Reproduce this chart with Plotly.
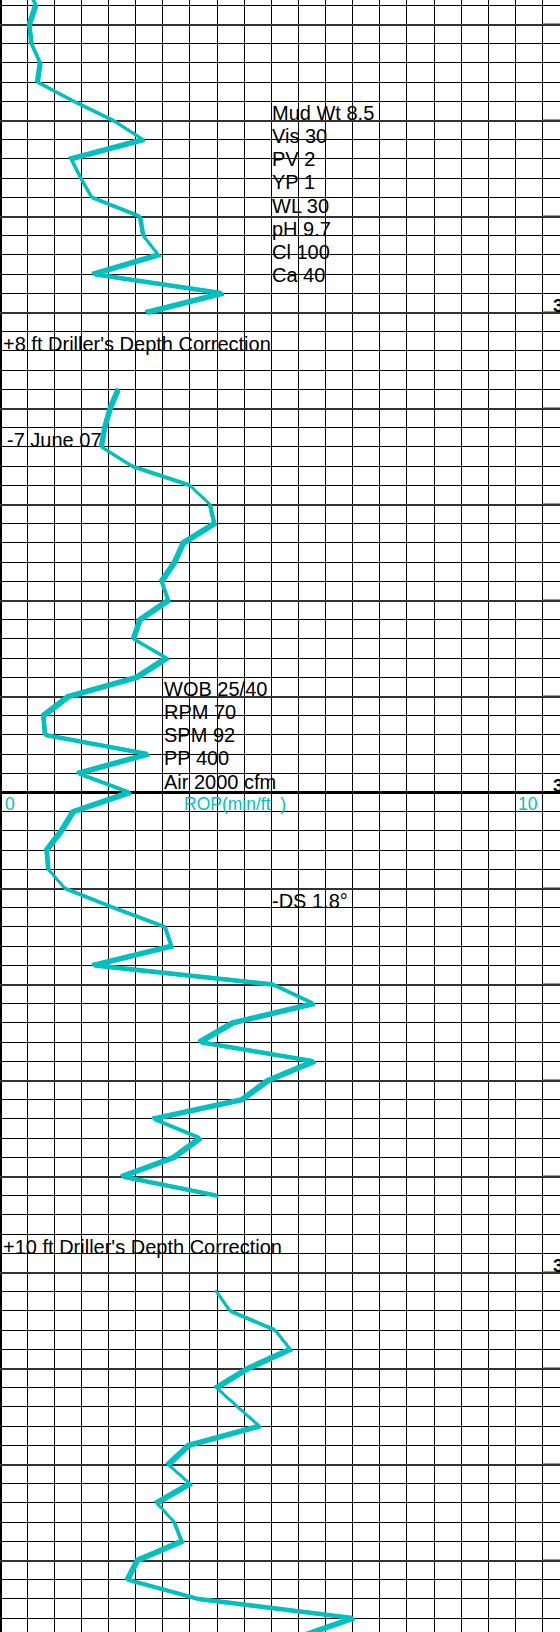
import math
import plotly.graph_objects as go

# ---------------- data ----------------
# depth (ft) and rate of penetration (min/ft), three logged intervals
seg1_depth = [3166, 3168, 3170, 3172, 3174, 3176, 3178, 3180, 3182, 3184,
              3186, 3188, 3190, 3192, 3194, 3196, 3198, 3200]
seg1_rop = [0.50, 0.66, 0.54, 0.58, 0.74, 0.69, 1.36, 2.09, 2.64, 1.31,
            1.49, 1.69, 2.58, 2.64, 2.92, 1.72, 4.10, 2.70]

seg2_depth = [3208, 3210, 3212, 3214, 3216, 3218, 3220, 3222, 3224, 3226,
              3228, 3230, 3232, 3234, 3236, 3238, 3240, 3242, 3244, 3246,
              3248, 3250, 3252, 3254, 3256, 3258, 3260, 3262, 3264, 3266,
              3268, 3270, 3272, 3274, 3276, 3278, 3280, 3282, 3284, 3286,
              3288, 3290, 3292]
seg2_rop = [2.18, 2.03, 1.93, 1.87, 2.43, 3.50, 3.87, 3.95, 3.38, 3.22,
            2.98, 3.10, 2.58, 2.46, 3.07, 2.52, 1.26, 0.80, 0.83, 2.73,
            1.44, 2.39, 1.35, 1.13, 0.86, 0.89, 1.20, 2.09, 3.04, 3.16,
            1.72, 5.03, 5.78, 4.29, 3.68, 5.79, 4.94, 4.46, 2.83, 3.69,
            3.21, 2.25, 4.00]

seg3_depth = [3302, 3304, 3306, 3308, 3310, 3312, 3314, 3316, 3318, 3320,
              3322, 3324, 3326, 3328, 3330, 3332, 3334, 3336, 3338]
seg3_rop = [3.99, 4.24, 5.07, 5.35, 4.57, 3.99, 4.38, 4.78, 3.48, 3.10,
            3.50, 2.89, 3.21, 3.35, 2.53, 2.35, 3.65, 6.51, 5.50]

depth_label_values = [3200, 3250, 3300]
depth_label_text = ["3200", "3250", "3300"]

mud_props = ["Mud Wt 8.5", "Vis 30", "PV 2", "YP 1", "WL 30", "pH 9.7", "Cl 100", "Ca 40"]
drill_params = ["WOB 25/40", "RPM 70", "SPM 92", "PP 400", "Air 2000 cfm"]
correction_1 = "+8 ft Driller's Depth Correction"
date_note = "-7 June 07"
survey_note = "-DS 1.8\u00b0"
correction_2 = "+10 ft Driller's Depth Correction"
rop_title = "ROP(min/ft\u00a0\u00a0)"
rop_min_label = "0"
rop_max_label = "10"

# ---------------- geometry ----------------
W, H = 560, 1632
PX_PER_ROP = 54.25        # 0..10 spans 542.5 px
PX_PER_FT = 9.6           # 2 ft per 19.2 px
REF_DEPTH = 3250
REF_PX = 792.5            # pixel row of REF_DEPTH
CYAN = "#00C0C0"
FONT = "Liberation Sans, Arial, sans-serif"

x_max = W / PX_PER_ROP
y_top = REF_DEPTH - REF_PX / PX_PER_FT
y_bot = REF_DEPTH + (H - REF_PX) / PX_PER_FT


def dpx(ypx):
    return REF_DEPTH + (ypx - REF_PX) / PX_PER_FT


def rpx(xpx):
    return xpx / PX_PER_ROP


fig = go.Figure()

# ROP curve, drawn with a slanted "pen": several offset strokes
all_depth = seg1_depth + [None] + seg2_depth + [None] + seg3_depth
all_rop = seg1_rop + [None] + seg2_rop + [None] + seg3_rop
pen_half = 1.9
steps = 7
for i in range(steps):
    s = -pen_half + 2 * pen_half * i / (steps - 1)
    ox = s / math.sqrt(2) / PX_PER_ROP
    oy = s / math.sqrt(2) / PX_PER_FT
    fig.add_trace(go.Scatter(
        x=[None if v is None else v + ox for v in all_rop],
        y=[None if v is None else v + oy for v in all_depth],
        mode="lines", line=dict(color=CYAN, width=2.2),
        hoverinfo="skip", showlegend=False))

shapes = []
# cover minor horizontal grid in the right margin strip
shapes.append(dict(type="rect", xref="x", yref="paper", x0=10 + 0.7 / PX_PER_ROP, x1=x_max,
                   y0=0, y1=1, fillcolor="white", line=dict(width=0), layer="between"))
major_depths = list(range(3170, 3340, 10))
for d in major_depths:
    shapes.append(dict(type="line", xref="x", yref="y", x0=10, x1=x_max, y0=d, y1=d,
                       line=dict(color="#333333", width=2), layer="between"))
# ROP scale line
shapes.append(dict(type="line", xref="x", yref="y", x0=0, x1=x_max, y0=REF_DEPTH, y1=REF_DEPTH,
                   line=dict(color="black", width=3), layer="between"))
# left border
shapes.append(dict(type="line", xref="x", yref="paper", x0=0, x1=0, y0=0, y1=1,
                   line=dict(color="black", width=4), layer="between"))

ann = []
txt = dict(family=FONT, size=20, color="black")
cyan_txt = dict(family=FONT, size=17.5, color=CYAN)


def add_text(text, xpx, ypx, font, xanchor="left"):
    ann.append(dict(text=text, x=rpx(xpx), y=dpx(ypx), xref="x", yref="y",
                    xanchor=xanchor, yanchor="middle", showarrow=False, font=font))


for i, t in enumerate(mud_props):
    add_text(t, 270, 112.7 + i * 23.23, txt)
for i, t in enumerate(drill_params):
    add_text(t, 161.5, 688.5 + i * 23.3, txt)
add_text(correction_1, 0.7, 344, txt)
add_text(date_note, 4.5, 440, txt)
add_text(survey_note, 270, 901, txt)
add_text(correction_2, 0.7, 1247, txt)
add_text(rop_min_label, 3, 804, cyan_txt)
add_text(rop_title, 181.5, 804, cyan_txt)
add_text(rop_max_label, 539.5, 804, cyan_txt, xanchor="right")
for d, t in zip(depth_label_values, depth_label_text):
    ann.append(dict(text=t, x=rpx(551.3), y=d - 7 / PX_PER_FT, xref="x", yref="y",
                    xanchor="left", yanchor="middle", showarrow=False,
                    font=dict(family=FONT, size=19, color="black", weight="bold")))

fig.update_layout(
    width=W, height=H, margin=dict(l=0, r=0, t=0, b=0, pad=0),
    paper_bgcolor="white", plot_bgcolor="white",
    shapes=shapes, annotations=ann, showlegend=False,
    xaxis=dict(range=[0, x_max], tickmode="array",
               tickvals=[i * 0.5 for i in range(21)],
               showgrid=True, gridcolor="black", gridwidth=1,
               showticklabels=False, ticks="", zeroline=False, showline=False,
               fixedrange=True),
    yaxis=dict(range=[y_bot, y_top], tick0=REF_DEPTH, dtick=10,
               showgrid=True, gridcolor="#333333", gridwidth=2,
               minor=dict(dtick=2, tick0=REF_DEPTH, showgrid=True, gridcolor="black", gridwidth=1),
               showticklabels=False, ticks="", zeroline=False, showline=False,
               fixedrange=True),
)

fig.write_html("out.html", config={"displayModeBar": False},
               post_script="document.body.style.margin='0';document.body.style.overflow='hidden';")
